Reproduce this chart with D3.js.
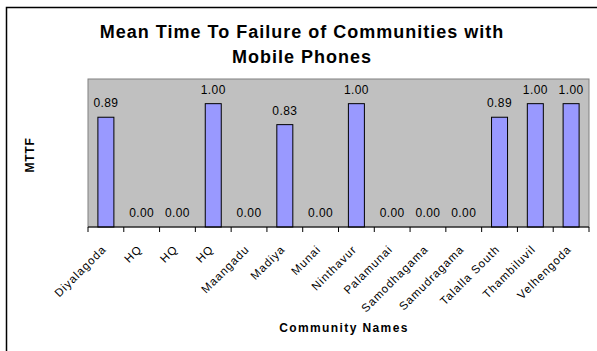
<!DOCTYPE html>
<html>
<head>
<meta charset="utf-8">
<script src="https://cdn.jsdelivr.net/npm/d3@7"></script>
<style>
  body { margin: 0; background: #fff; }
  svg { display: block; font-family: "Liberation Sans", Arial, sans-serif; }
</style>
</head>
<body>
<div id="chart"></div>
<script>
const communities = ['Diyalagoda', 'HQ', 'HQ', 'HQ', 'Maangadu', 'Madiya', 'Munai', 'Ninthavur',
                     'Palamunai', 'Samodhagama', 'Samudragama', 'Talalla South', 'Thambiluvil', 'Velhengoda'];
const mttf = [0.89, 0, 0, 1.00, 0, 0.83, 0, 1.00, 0, 0, 0, 0.89, 1.00, 1.00];
const yDomain = [0, 1.2];

const svgWidth = 597, svgHeight = 351;
const plot = { left: 88, right: 589, top: 79, bottom: 227 };

const svg = d3.select('#chart').append('svg')
    .attr('width', svgWidth)
    .attr('height', svgHeight);

// outer frame (only left & top visible in the crop)
svg.append('path')
    .attr('d', `M6.5,${svgHeight} V7.5 H${svgWidth}`)
    .attr('fill', 'none')
    .attr('stroke', '#000')
    .attr('stroke-width', 1.5);

const keys = communities.map((c, i) => i);
const x = d3.scaleBand().domain(keys).range([plot.left, plot.right]).paddingInner(0).paddingOuter(0);
const y = d3.scaleLinear().domain(yDomain).range([plot.bottom, plot.top]);

svg.append('rect')
    .attr('x', plot.left).attr('y', plot.top)
    .attr('width', plot.right - plot.left).attr('height', plot.bottom - plot.top)
    .attr('fill', '#c0c0c0')
    .attr('stroke', '#808080')
    .attr('stroke-width', 1);

const barW = 16;
svg.selectAll('rect.bar').data(mttf).enter().append('rect')
    .attr('class', 'bar')
    .attr('x', (d, i) => x(i) + x.bandwidth() / 2 - barW / 2)
    .attr('y', d => y(d))
    .attr('width', barW)
    .attr('height', d => plot.bottom - y(d))
    .attr('fill', '#9999ff')
    .attr('stroke', '#000')
    .attr('stroke-width', d => d > 0 ? 1 : 0);

svg.selectAll('text.val').data(mttf).enter().append('text')
    .attr('class', 'val')
    .attr('x', (d, i) => x(i) + x.bandwidth() / 2)
    .attr('y', d => y(d) - 10)
    .attr('text-anchor', 'middle')
    .attr('font-size', 12)
    .attr('letter-spacing', 0.4)
    .text(d => d.toFixed(2));

// x axis with ticks between categories
const xAxis = svg.append('g').attr('transform', `translate(0,${plot.bottom})`);
xAxis.append('line')
    .attr('x1', plot.left).attr('x2', plot.right)
    .attr('stroke', '#000');
xAxis.selectAll('line.tick').data(d3.range(communities.length + 1)).enter().append('line')
    .attr('class', 'tick')
    .attr('x1', i => plot.left + i * x.bandwidth())
    .attr('x2', i => plot.left + i * x.bandwidth())
    .attr('y1', 0).attr('y2', 5)
    .attr('stroke', '#000');

xAxis.selectAll('text.lab').data(communities).enter().append('text')
    .attr('class', 'lab')
    .attr('transform', (d, i) => `translate(${x(i) + x.bandwidth() / 2 + 1},${23}) rotate(-45)`)
    .attr('text-anchor', 'end')
    .attr('font-size', 11.5)
    .attr('letter-spacing', 1)
    .text(d => d);

svg.append('text')
    .attr('x', 302).attr('y', 38)
    .attr('text-anchor', 'middle')
    .attr('font-size', 18).attr('font-weight', 'bold')
    .attr('letter-spacing', 1)
    .text('Mean Time To Failure of Communities with');
svg.append('text')
    .attr('x', 302).attr('y', 63)
    .attr('text-anchor', 'middle')
    .attr('font-size', 18).attr('font-weight', 'bold')
    .attr('letter-spacing', 1)
    .text('Mobile Phones');

svg.append('text')
    .attr('transform', 'translate(34,155) rotate(-90)')
    .attr('text-anchor', 'middle')
    .attr('font-size', 12).attr('font-weight', 'bold')
    .attr('letter-spacing', 0.8)
    .text('MTTF');

svg.append('text')
    .attr('x', 344).attr('y', 332)
    .attr('text-anchor', 'middle')
    .attr('font-size', 12).attr('font-weight', 'bold')
    .attr('letter-spacing', 1.4)
    .text('Community Names');
</script>
</body>
</html>
